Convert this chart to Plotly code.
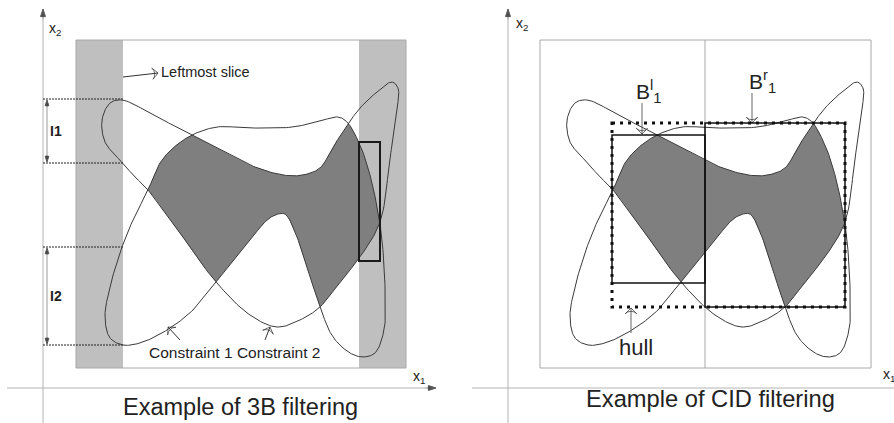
import numpy as np
import plotly.graph_objects as go

# ---------------- data (diagram geometry, pixel units of the 3B panel) ----------------
constraint1 = [(123, 345), (110, 338), (105, 317), (110, 287), (122, 247), (133, 220), (148, 190),
               (160, 163), (173, 148), (192, 135), (217, 127), (250, 128), (293, 127), (320, 121),
               (338, 117), (347, 122), (360, 145), (370, 175), (378, 212), (382, 240), (385, 287),
               (384, 330), (375, 353), (363, 357), (350, 353), (333, 337), (320, 307), (307, 267),
               (295, 232), (285, 214), (275, 215), (266, 221), (250, 240), (216, 282), (193, 310),
               (167, 330), (140, 343)]
constraint2 = [(122, 100), (157, 117), (192, 135), (222, 150), (250, 165), (283, 175), (303, 175),
               (320, 168), (333, 147), (348, 124), (360, 108), (377, 92), (392, 82), (398, 88),
               (397, 110), (390, 158), (380, 222), (360, 257), (340, 282), (320, 307), (300, 320),
               (277, 327), (250, 315), (216, 282), (180, 233), (148, 190), (133, 175), (122, 162),
               (115, 155), (105, 142), (102, 120), (110, 103)]
panel_shift = [0, 465]
titles = ["Example of 3B filtering", "Example of CID filtering"]
slices_3b = [(76, 123), (359, 406)]
box_3b = (76, 406, 40, 368)
box_cid = (540, 871, 40, 368)
cid_split_x = 705
intervals = [(99, 163), (247, 345)]
interval_labels = ["I1", "I2"]
rect_3b = (359, 380, 142, 261)
hull_box = (612, 845, 123, 307)
box_B_left = (612, 705, 135, 283)
box_B_right = (705, 845, 123, 307)

SLICE = "#bfbfbf"
SHADE = "#7f7f7f"
CURVE = "#3a3a3a"
AXIS = "#b4b4b4"
BOX = "#a8a8a8"
FONT = "Liberation Sans, Arial, sans-serif"


def catmull_rom_closed(points, samples=18, alpha=0.5):
    P = np.asarray(points, float)
    n = len(P)
    out = []
    for i in range(n):
        p0, p1, p2, p3 = P[(i - 1) % n], P[i], P[(i + 1) % n], P[(i + 2) % n]
        t0 = 0.0
        t1 = t0 + np.linalg.norm(p1 - p0) ** alpha
        t2 = t1 + np.linalg.norm(p2 - p1) ** alpha
        t3 = t2 + np.linalg.norm(p3 - p2) ** alpha
        t = np.linspace(t1, t2, samples, endpoint=False)[:, None]
        a1 = (t1 - t) / (t1 - t0) * p0 + (t - t0) / (t1 - t0) * p1
        a2 = (t2 - t) / (t2 - t1) * p1 + (t - t1) / (t2 - t1) * p2
        a3 = (t3 - t) / (t3 - t2) * p2 + (t - t2) / (t3 - t2) * p3
        b1 = (t2 - t) / (t2 - t0) * a1 + (t - t0) / (t2 - t0) * a2
        b2 = (t3 - t) / (t3 - t1) * a2 + (t - t1) / (t3 - t1) * a3
        out.append((t2 - t) / (t2 - t1) * b1 + (t - t1) / (t2 - t1) * b2)
    return np.vstack(out)


def signed_area(C):
    x, y = C[:, 0], C[:, 1]
    return 0.5 * np.sum(x * np.roll(y, -1) - np.roll(x, -1) * y)


def inside(Q, V):
    x, y = Q[:, 0][:, None], Q[:, 1][:, None]
    x1, y1 = V[:, 0][None, :], V[:, 1][None, :]
    x2, y2 = np.roll(V[:, 0], -1)[None, :], np.roll(V[:, 1], -1)[None, :]
    cond = (y1 > y) != (y2 > y)
    dy = np.where(y2 - y1 == 0, 1e-12, y2 - y1)
    xint = x1 + (y - y1) * (x2 - x1) / dy
    return (cond & (x < xint)).sum(axis=1) % 2 == 1


def inside_arcs(C, other):
    m = inside(C, other)
    if m.all():
        return [C]
    i0 = int(np.argmin(m))
    C = np.roll(C, -i0, axis=0)
    m = np.roll(m, -i0)
    arcs, cur = [], []
    for p, f in zip(C, m):
        if f:
            cur.append(p)
        elif cur:
            arcs.append(np.array(cur))
            cur = []
    if cur:
        arcs.append(np.array(cur))
    return arcs


c1 = catmull_rom_closed(constraint1)
c2 = catmull_rom_closed(constraint2)
if np.sign(signed_area(c1)) != np.sign(signed_area(c2)):
    c2 = c2[::-1]

arcs = inside_arcs(c1, c2) + inside_arcs(c2, c1)
chain = [arcs.pop(0)]
while arcs:
    end = chain[-1][-1]
    j = int(np.argmin([np.linalg.norm(a[0] - end) for a in arcs]))
    chain.append(arcs.pop(j))
region = np.vstack(chain)

fig = go.Figure()
shapes = []
annotations = []


def rect(b, **kw):
    d = dict(type="rect", xref="x", yref="y", x0=b[0], x1=b[1], y0=b[2], y1=b[3])
    d.update(kw)
    return d


def line(x0, y0, x1, y1, color, width=1, dash="solid", layer="below"):
    return dict(type="line", xref="x", yref="y", x0=x0, y0=y0, x1=x1, y1=y1,
                line=dict(color=color, width=width, dash=dash), layer=layer)


def add_arrow(x0, y0, x1, y1, color="#333333", head_color=None, symbol="arrow-wide-open",
              size=8, width=1):
    fig.add_trace(go.Scatter(
        x=[x0, x1], y=[y0, y1], mode="lines+markers",
        line=dict(color=color, width=width),
        marker=dict(symbol=symbol, angleref="previous", size=[0, size],
                    color=head_color or color,
                    line=dict(color=head_color or color, width=1)),
        hoverinfo="skip", showlegend=False))


def label(x, y, text, size, xanchor="center", bold=False, color="#222222"):
    return dict(x=x, y=y, xref="x", yref="y", text=text, showarrow=False,
                xanchor=xanchor, yanchor="middle",
                font=dict(family=FONT, size=size, color=color,
                          weight="bold" if bold else "normal"))


# ---- panel backgrounds ----
for s in slices_3b:
    shapes.append(rect((s[0], s[1], box_3b[2], box_3b[3]), fillcolor=SLICE,
                       line=dict(width=0), layer="below"))
shapes.append(rect(box_3b, line=dict(color=BOX, width=1), layer="below"))
shapes.append(rect(box_cid, line=dict(color=BOX, width=1), layer="below"))
shapes.append(line(cid_split_x, box_cid[2], cid_split_x, box_cid[3], BOX))

# axes lines
shapes.append(line(43, 423, 43, 14, AXIS))
shapes.append(line(7, 388, 430, 388, AXIS))
shapes.append(line(508, 423, 508, 14, AXIS))
shapes.append(line(472, 388, 894, 388, AXIS))

# intervals I1, I2 (dotted guides)
for (ya, yb), txt in zip(intervals, interval_labels):
    shapes.append(line(43, ya, slices_3b[0][1], ya, "#222222", dash="2px,1px"))
    shapes.append(line(43, yb, slices_3b[0][1], yb, "#222222", dash="2px,1px"))
    shapes.append(line(47, ya + 4, 47, yb - 4, "#9a9a9a"))
    annotations.append(label(56, (ya + yb) / 2, txt, 14, xanchor="center", bold=True))

# ---- shaded intersection and curves in both panels ----
for dx in panel_shift:
    fig.add_trace(go.Scatter(x=region[:, 0] + dx, y=region[:, 1], mode="lines",
                             fill="toself", fillcolor=SHADE, line=dict(width=0),
                             hoverinfo="skip", showlegend=False))
    for c in (c1, c2):
        cc = np.vstack([c, c[:1]])
        fig.add_trace(go.Scatter(x=cc[:, 0] + dx, y=cc[:, 1], mode="lines",
                                 line=dict(color=CURVE, width=1), hoverinfo="skip",
                                 showlegend=False))

# arrow heads of axes and intervals
add_arrow(43, 20, 43, 9, color=AXIS, head_color="#111111", symbol="arrow", size=8)
add_arrow(425, 388, 436, 388, color=AXIS, head_color="#111111", symbol="arrow", size=8)
add_arrow(508, 20, 508, 9, color=AXIS, head_color="#111111", symbol="arrow", size=8)
for (ya, yb) in intervals:
    add_arrow(47, ya + 8, 47, ya + 1, color="#9a9a9a", head_color="#111111", symbol="arrow", size=6)
    add_arrow(47, yb - 8, 47, yb - 1, color="#9a9a9a", head_color="#111111", symbol="arrow", size=6)

# pointer arrows
add_arrow(123, 77, 158, 73)
add_arrow(180, 340, 168, 327)
add_arrow(265, 340, 270, 327)
add_arrow(642, 103, 642, 134, color="#666666", head_color="#333333")
add_arrow(752, 93, 752, 123, color="#666666", head_color="#333333")
add_arrow(631, 333, 631, 308, color="#666666", head_color="#333333")

# boxes on top
shapes.append(rect(rect_3b, line=dict(color="#1a1a1a", width=2), layer="above"))
shapes.append(rect(box_B_left, line=dict(color="#111111", width=1.5), layer="above"))
shapes.append(rect(box_B_right, line=dict(color="#111111", width=1.5), layer="above"))
shapes.append(rect(hull_box, line=dict(color="#111111", width=3, dash="3px,5px"), layer="above"))

# ---- texts ----
annotations += [
    label(240, 406.5, titles[0], 23.5),
    label(710, 398.5, titles[1], 23.7),
    label(159, 72, "Leftmost slice", 14.5, xanchor="left"),
    label(147, 352, "Constraint 1 Constraint 2", 15.5, xanchor="left"),
    label(617, 347, "hull", 22, xanchor="left"),
    label(634, 91, "B<sup>l</sup><sub>1</sub>", 21, xanchor="left"),
    label(747, 81, "B<sup>r</sup><sub>1</sub>", 21, xanchor="left"),
    label(47, 29, "x<sub>2</sub>", 14, xanchor="left"),
    label(514, 24, "x<sub>2</sub>", 14, xanchor="left"),
    label(411, 377, "x<sub>1</sub>", 14, xanchor="left"),
    label(881, 375, "x<sub>1</sub>", 14, xanchor="left"),
]

fig.update_layout(
    width=894, height=423, autosize=False,
    margin=dict(l=0, r=0, t=0, b=0),
    paper_bgcolor="white", plot_bgcolor="white",
    xaxis=dict(range=[0, 894], visible=False, fixedrange=True),
    yaxis=dict(range=[423, 0], visible=False, fixedrange=True),
    shapes=shapes, annotations=annotations, showlegend=False,
)

fig.write_html("out.html", config={"displayModeBar": False},
               post_script="document.body.style.margin='0';document.body.style.overflow='hidden';")
